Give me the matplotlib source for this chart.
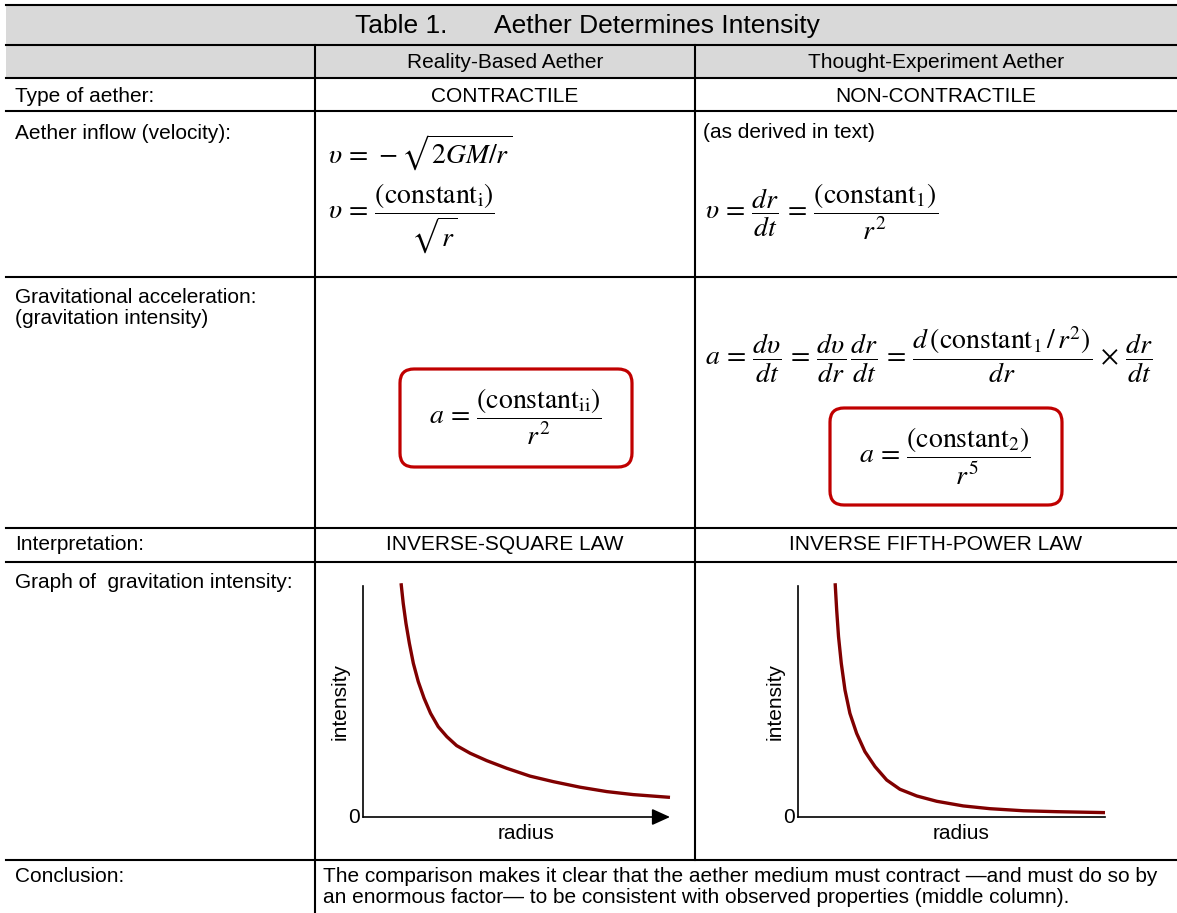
import matplotlib
matplotlib.use("Agg")
import matplotlib.pyplot as plt
from matplotlib.patches import FancyBboxPatch, Rectangle

plt.rcParams["font.family"] = ["Liberation Sans", "DejaVu Sans"]
plt.rcParams["mathtext.fontset"] = "stix"

# table text
title_left = "Table 1."
title_right = "Aether Determines Intensity"
columns = ["Reality-Based Aether", "Thought-Experiment Aether"]
row_labels = ["Type of aether:", "Aether inflow (velocity):",
              "Gravitational acceleration:\n(gravitation intensity)",
              "Interpretation:", "Graph of  gravitation intensity:", "Conclusion:"]
aether_types = ["CONTRACTILE", "NON-CONTRACTILE"]
interpretations = ["INVERSE-SQUARE LAW", "INVERSE FIFTH-POWER LAW"]
conclusion = ("The comparison makes it clear that the aether medium must contract \u2014and must do so by\n"
              "an enormous factor\u2014 to be consistent with observed properties (middle column).")

# curves (radius, intensity in arbitrary 0-10 units)
radius_sq = [1.24, 1.31, 1.40, 1.51, 1.64, 1.80, 1.99, 2.20, 2.45, 2.73, 3.05, 3.49,
             4.03, 4.68, 5.44, 6.20, 7.07, 7.94, 8.80, 10.0]
intensity_sq = [10.12, 9.25, 8.38, 7.52, 6.65, 5.86, 5.14, 4.49, 3.91, 3.48, 3.09, 2.76,
                2.44, 2.11, 1.77, 1.53, 1.29, 1.10, 0.97, 0.85]
radius_5 = [1.21, 1.26, 1.32, 1.41, 1.53, 1.69, 1.91, 2.18, 2.51, 2.89, 3.32, 3.87,
            4.52, 5.38, 6.25, 7.34, 8.43, 10.0]
intensity_5 = [10.12, 8.96, 7.81, 6.65, 5.50, 4.49, 3.62, 2.83, 2.18, 1.60, 1.20, 0.91,
               0.68, 0.48, 0.36, 0.27, 0.23, 0.19]

W, H = 1177, 913
fig = plt.figure(figsize=(W / 100, H / 100), dpi=100)
ax = fig.add_axes([0, 0, 1, 1])
ax.set_xlim(0, W)
ax.set_ylim(H, 0)
ax.axis("off")

gray = "#d9d9d9"
red = "#c00000"
fs = 15
mfs = 20

# gray title + header rows
ax.add_patch(Rectangle((6, 5), W - 6, 73, facecolor=gray, edgecolor="none"))

# grid lines
for y in [5, 45, 78, 111, 277, 528, 562, 860]:
    ax.plot([6, W], [y, y], color="black", lw=1.5)
ax.plot([315, 315], [45, H], color="black", lw=1.5)
ax.plot([695, 695], [45, 860], color="black", lw=1.5)

# title and headers
ax.text(355, 26, title_left, fontsize=19, va="center")
ax.text(494, 26, title_right, fontsize=19, va="center")
ax.text(505, 62, columns[0], fontsize=fs, ha="center", va="center")
ax.text(936, 62, columns[1], fontsize=fs, ha="center", va="center")

# row labels
ax.text(15, 96, row_labels[0], fontsize=fs, va="center")
ax.text(15, 124, row_labels[1], fontsize=fs, va="top")
ax.text(15, 288, row_labels[2], fontsize=fs, va="top", linespacing=1.15)
ax.text(15, 545, row_labels[3], fontsize=fs, va="center")
ax.text(15, 583, row_labels[4], fontsize=fs, va="center")
ax.text(15, 877, row_labels[5], fontsize=fs, va="center")

ax.text(505, 96, aether_types[0], fontsize=fs, ha="center", va="center")
ax.text(936, 96, aether_types[1], fontsize=fs, ha="center", va="center")
ax.text(505, 545, interpretations[0], fontsize=fs, ha="center", va="center")
ax.text(936, 545, interpretations[1], fontsize=fs, ha="center", va="center")
ax.text(323, 887, conclusion, fontsize=fs, va="center", linespacing=1.15)

# formulas
ax.text(328, 153, r"$\upsilon \,=\, -\sqrt{2GM/r}$", fontsize=mfs, va="center")
ax.text(328, 218, r"$\upsilon \,=\, \dfrac{(\mathrm{constant}_{\mathrm{i}})}{\sqrt{r}}$",
        fontsize=mfs, va="center")
ax.text(703, 133, "(as derived in text)", fontsize=fs, va="center")
ax.text(705, 212,
        r"$\upsilon \,=\, \dfrac{dr}{dt} \,=\, \dfrac{(\mathrm{constant}_1)}{r^2}$",
        fontsize=mfs, va="center")
ax.text(705, 355,
        r"$a \,=\, \dfrac{d\upsilon}{dt} \,=\, \dfrac{d\upsilon}{dr}\,\dfrac{dr}{dt} \,=\, "
        r"\dfrac{d\,\left(\mathrm{constant}_1\,/\,r^2\right)}{dr}\,\times\,\dfrac{dr}{dt}$",
        fontsize=mfs, va="center")
ax.text(515, 417, r"$a \,=\, \dfrac{(\mathrm{constant}_{\mathrm{ii}})}{r^2}$",
        fontsize=mfs, ha="center", va="center")
ax.text(945, 456, r"$a \,=\, \dfrac{(\mathrm{constant}_2)}{r^5}$",
        fontsize=mfs, ha="center", va="center")

for x0, y0, bw, bh in [(400, 369, 232, 98), (830, 408, 232, 97)]:
    ax.add_patch(FancyBboxPatch((x0, y0), bw, bh, boxstyle="round,pad=0,rounding_size=14",
                                facecolor="none", edgecolor=red, lw=2.3))


def graph(left, xs, ys, arrow):
    top_val = 10.4
    g = fig.add_axes([left / W, 96 / H, 307 / W, 231 * top_val / 10 / H])
    g.set_xlim(0, 10)
    g.set_ylim(0, top_val)
    g.plot(xs, ys, color="#800000", lw=2.4, solid_capstyle="butt", clip_on=False)
    for s in ["top", "right"]:
        g.spines[s].set_visible(False)
    g.spines["left"].set_bounds(0, 10)
    g.spines["left"].set_linewidth(1.2)
    g.spines["bottom"].set_linewidth(1.2)
    g.set_xticks([])
    g.set_yticks([])
    g.patch.set_alpha(0)
    if arrow:
        g.spines["bottom"].set_visible(False)
        g.annotate("", xy=(10, 0), xytext=(0, 0),
                   arrowprops=dict(arrowstyle="-|>,head_length=0.55,head_width=0.25",
                                   color="black", lw=1.2, mutation_scale=20,
                                   shrinkA=0, shrinkB=0))
    g.text(-0.1, 0, "0", fontsize=fs, ha="right", va="center")
    g.text(5.3, -0.3, "radius", fontsize=fs, ha="center", va="top")
    g.text(-0.45, 5.0, "intensity", fontsize=fs, ha="right", va="center", rotation=90)
    return g


graph(363, radius_sq, intensity_sq, True)
graph(798, radius_5, intensity_5, False)

fig.savefig("out.png", dpi=100)
